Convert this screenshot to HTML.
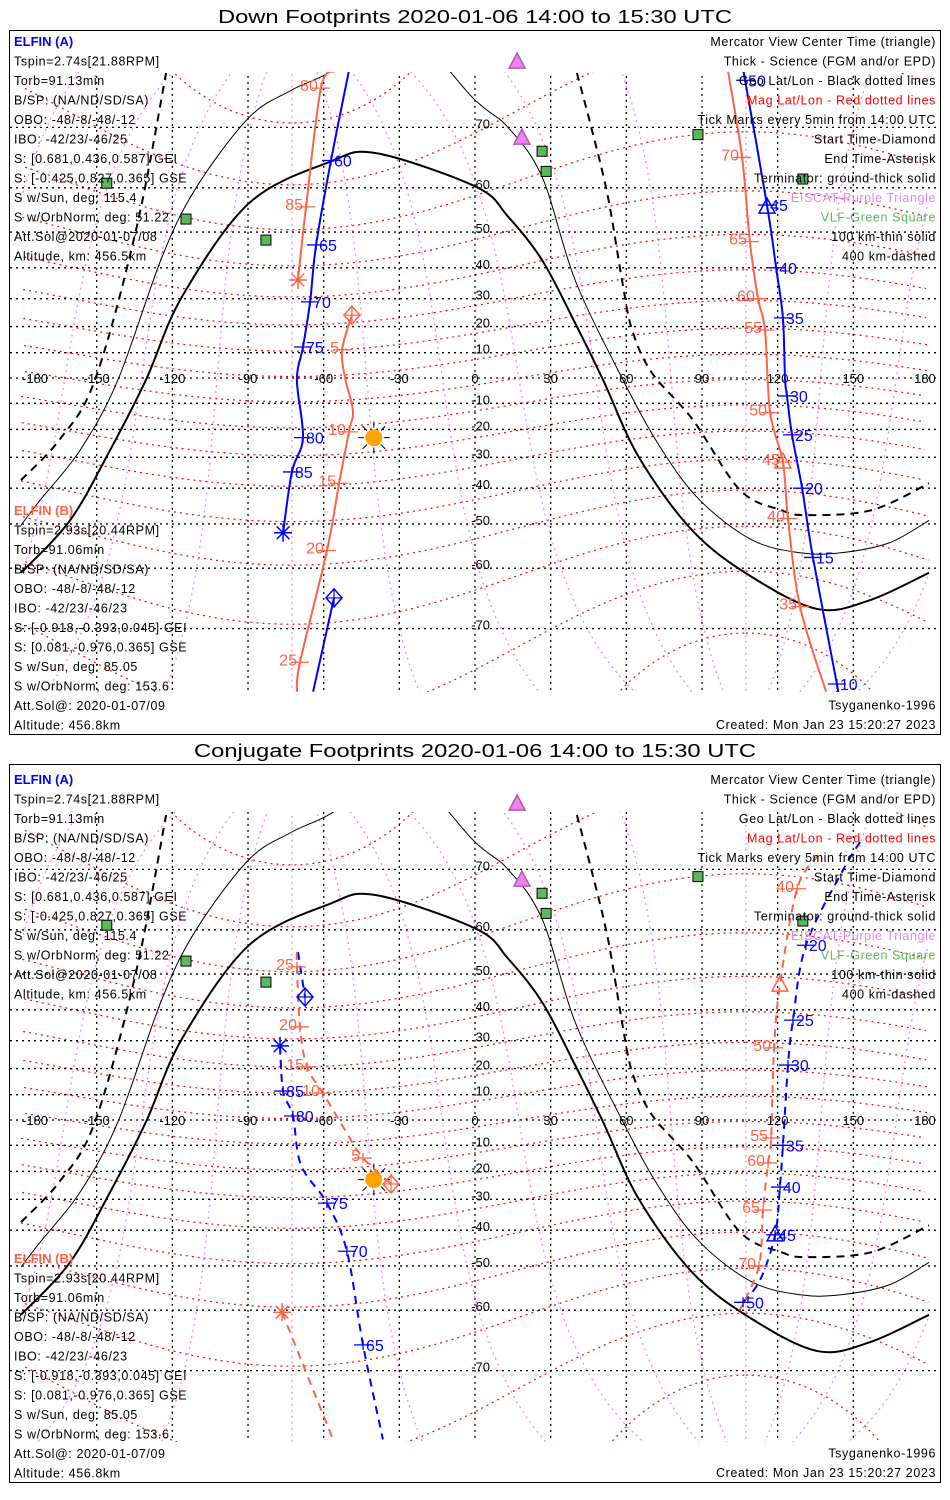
<!DOCTYPE html>
<html><head><meta charset="utf-8"><style>
html,body{margin:0;padding:0;background:#fff}
svg{display:block;font-family:"Liberation Sans",sans-serif}
</style></head><body>
<svg id="chart" width="950" height="1500" viewBox="0 0 950 1500" xmlns="http://www.w3.org/2000/svg">
<defs>
<clipPath id="clip1"><rect x="10" y="72" width="930" height="620"/></clipPath>
<clipPath id="clip2"><rect x="10" y="812" width="930" height="630"/></clipPath>
</defs>
<rect x="0" y="0" width="950" height="1500" fill="#fff"/>
<text x="475" y="23" font-size="18" text-anchor="middle" textLength="514" lengthAdjust="spacingAndGlyphs">Down Footprints 2020-01-06 14:00 to 15:30 UTC</text>
<rect x="9.5" y="30.5" width="931" height="704" fill="none" stroke="#000"/>
<text x="475" y="757" font-size="18" text-anchor="middle" textLength="562" lengthAdjust="spacingAndGlyphs">Conjugate Footprints 2020-01-06 14:00 to 15:30 UTC</text>
<rect x="9.5" y="764.5" width="931" height="718" fill="none" stroke="#000"/>
<g id="p1" clip-path="url(#clip1)"></g>
<g id="p2" clip-path="url(#clip2)"></g>
<g id="m1"></g>
<g id="m2"></g>
<g id="txt"></g>
</svg>
<script>
// ---- data ----
const lonTicks=[-180,-150,-120,-90,-60,-30,0,30,60,90,120,150,180];
const latTicks=[-70,-60,-50,-40,-30,-20,-10,0,10,20,30,40,50,60,70];
const magLats=[-80,-70,-60,-50,-40,-30,-20,-10,0,10,20,30,40,50,60,70,80];
const magLons=[-180,-150,-120,-90,-60,-30,0,30,60,90,120,150];
// terminator curves (lon, lat)
const termGroundLon=[-180,-160.6,-144.7,-130.5,-116.2,-89.6,-57.9,-39.3,0.4,13.1,26.6,39.7,50.8,65,86.4,109.8,136,157,180];
const termGroundLat=[-60.9,-49.1,-27.5,-0.8,30.6,56.8,64.7,66.2,60.2,53.8,42.3,21.3,-0.8,-30,-51.8,-61.7,-67.2,-65.7,-60.9];
const term100Lon=[-180,-172.5,-156.6,-141.6,-124.1,-110.6,-89.6,-72.6,-56.7,-30,0,13.1,26.6,39.7,58.3,73.4,89.2,109.8,128.9,145.1,164.2,180];
const term100Lat=[-50.3,-43.6,-27.5,-0.8,43.2,60,71.3,74.5,76.4,80,73.4,70,62.1,36.2,0,-26.4,-43.6,-53.9,-56.8,-56.8,-54.6,-49.1];
const term400LonA=[-180,-164.6,-150.7,-134.4,-122.5];
const term400LatA=[-37.5,-23.6,-0.8,50.5,76.2];
const term400LonB=[40.4,46.4,52.7,58.3,62.3,70.2,86.4,105.1,121.7,131.2,157,180];
const term400LatB=[76.2,69.6,58.2,36.2,18.7,2,-16.4,-40.6,-46.4,-47.7,-46.4,-38.5];
// Down footprints - ELFIN A (blue)
const dA1Lon=[-55.9,-64.2], dA1Lat=[-65.4,-77];
const dA2Lon=[143.5,143.5,134.0,129.7,125.7,123.7,122.9,122.1,119.4,115.8,107.1,106.3];
const dA2Lat=[-77,-76.3,-57.8,-40,-22,-7.1,0,23.2,40,56.4,75.5,76.4];
const dA3Lon=[-50,-57.1,-63,-65.4,-68.2,-70.6,-68.2,-72.6,-76.1];
const dA3Lat=[76.4,65,46.6,28.9,12.2,-0.8,-23,-34.9,-52.2];
const dATickLon=[143.5,134.0,129.7,125.7,123.7,122.1,119.4,115.8,107.1,-57.1,-63,-65.4,-68.2,-68.2,-72.6];
const dATickLat=[-76.3,-57.8,-40,-22,-7.1,23.2,40,56.4,75.5,65,46.6,28.9,12.2,-23,-34.9];
const dATickLab=["10","15","20","25","30","35","40","45","50","60","65","70","75","80","85"];
// Down footprints - ELFIN B (red)
const dB1Lon=[-48.8,-52.7,-51.5,-48.4,-50,-53.9,-58.7,-69.4,-70.6];
const dB1Lat=[24.2,11.1,0,-12.9,-20.9,-38.5,-56.3,-74.1,-77];
const dB2Lon=[139.2,128.9,124.1,122.1,117,115,112.2,109,105.9,100.3];
const dB2Lat=[-77,-66.8,-48.6,-31.6,-13.6,18.7,30,47.5,65.5,76.4];
const dB3Lon=[-55.5,-61.1,-67,-70.2], dB3Lat=[76.4,74.7,56,36.2];
const dBTickLon=[-52.7,-50,-53.9,-58.7,-69.4,128.9,124.1,122.1,117,115,112.2,109,105.9,-61.1,-67];
const dBTickLat=[11.1,-20.9,-38.5,-56.3,-74.1,-66.8,-48.6,-31.6,-13.6,18.7,30,47.5,65.5,74.7,56];
const dBTickLab=["5","10","15","20","25","35","40","45","50","55","60","65","70","80","85"];
// Conjugate footprints - ELFIN A (blue)
const cA1Lon=[-70.2,-67.4], cA1Lat=[55.3,43.8];
const cA2Lon=[-77.3,-76.1,-72.2,-69,-58.7,-50.8,-44.4,-36.5];
const cA2Lat=[28.2,11.4,1.6,-17.6,-31.3,-46.1,-66.2,-77.5];
const cA3Lon=[152.7,145.9,131.2,126.1,124.1,122.1,120.9,119,113,106.3];
const cA3Lat=[73.4,69.9,56.8,36.8,21.3,-10,-25.7,-41.4,-53.5,-58.4];
const cATickLon=[-76.1,-72.2,-58.7,-50.8,-44.4,131.2,126.1,124.1,122.1,120.9,119,106.3];
const cATickLat=[11.4,1.6,-31.3,-46.1,-66.2,56.8,36.8,21.3,-10,-25.7,-41.4,-58.4];
const cATickLab=["85","80","75","70","65","20","25","30","35","40","45","50"];
// Conjugate footprints - ELFIN B (red)
const cB1Lon=[-70.6,-70.6,-69.4,-66.6,-60.3,-51.5,-44.4,-33.3];
const cB1Lat=[55.3,51.8,34.6,20.6,10.6,-4,-14.9,-24.6];
const cB2Lon=[-76.5,-56.3], cB2Lat=[-60.4,-77.5];
const cB3Lon=[136,127.7,120.9,118.6,117.4,116.2,114.2,112.6,105];
const cB3Lat=[71.8,67.2,47.1,27.5,-7.1,-16.8,-33.6,-50,-60];
const cBTickLon=[-70.6,-69.4,-66.6,-60.3,-44.4,127.7,118.6,117.4,116.2,114.2,112.6];
const cBTickLat=[51.8,34.6,20.6,10.6,-14.9,67.2,27.5,-7.1,-16.8,-33.6,-50];
const cBTickLab=["25","20","15","10","5","40","50","55","60","65","70"];
// markers
const vlfLon=[-146,-114.6,-82.9,26.6,28.2,88.4,130], vlfLat=[60.9,53.2,47.9,66.5,63.1,69,61.7];
const eiscatLon=[16.7,18.6], eiscatLat=[77.2,68.5];
const sunLon=[-40.1], sunLat=[-23];

const leftA=["Tspin=2.74s[21.88RPM]","Torb=91.13min","B/SP: (NA/ND/SD/SA)","OBO: -48/-8/-48/-12","IBO: -42/23/-46/25","S: [0.681,0.436,0.587] GEI","S: [-0.425,0.827,0.365] GSE","S w/Sun, deg: 115.4","S w/OrbNorm, deg: 51.22","Att.Sol@2020-01-07/08","Altitude, km: 456.5km"];
const leftB=["Tspin=2.93s[20.44RPM]","Torb=91.06min","B/SP: (NA/ND/SD/SA)","OBO: -48/-8/-48/-12","IBO: -42/23/-46/23","S: [-0.918,-0.393,0.045] GEI","S: [0.081,-0.976,0.365] GSE","S w/Sun, deg: 85.05","S w/OrbNorm, deg: 153.6","Att.Sol@: 2020-01-07/09","Altitude: 456.8km"];
const legendText=["Mercator View Center Time (triangle)","Thick - Science (FGM and/or EPD)","Geo Lat/Lon - Black dotted lines","Mag Lat/Lon - Red dotted lines","Tick Marks every 5min from 14:00 UTC","Start Time-Diamond","End Time-Asterisk","Terminator: ground-thick solid","EISCAT-Purple Triangle","VLF-Green Square","100 km-thin solid","400 km-dashed"];
const legendColor=["#000","#000","#000","#f00","#000","#000","#000","#000","#ee82ee","#5cb85c","#000","#000"];

// ---- helpers ----
const NS="http://www.w3.org/2000/svg";
const BLUE="#0000ff", RED="#ff6347";
function xS(lon){return 475+lon*2.522;}
function yS(lat,eq){return eq-144.4*Math.log(Math.tan(Math.PI/4+lat*Math.PI/360));}
function mk(tag,attrs,parent){const e=document.createElementNS(NS,tag);for(const k in attrs)e.setAttribute(k,attrs[k]);parent.appendChild(e);return e;}
function poly(g,lons,lats,eq,style,name){
  const pts=lons.map((l,i)=>xS(l).toFixed(1)+","+yS(lats[i],eq).toFixed(1)).join(" ");
  const e=mk("polyline",Object.assign({points:pts,fill:"none"},style),g);
  
  
  return e;
}
function smooth(g,lons,lats,eq,style,name){
  const P=lons.map((l,i)=>[xS(l),yS(lats[i],eq)]);
  let d=`M${P[0][0].toFixed(1)},${P[0][1].toFixed(1)}`;
  for(let i=0;i<P.length-1;i++){
    const p0=P[Math.max(0,i-1)],p1=P[i],p2=P[i+1],p3=P[Math.min(P.length-1,i+2)];
    const c1=[p1[0]+(p2[0]-p0[0])/6,p1[1]+(p2[1]-p0[1])/6];
    const c2=[p2[0]-(p3[0]-p1[0])/6,p2[1]-(p3[1]-p1[1])/6];
    d+=`C${c1[0].toFixed(1)},${c1[1].toFixed(1)} ${c2[0].toFixed(1)},${c2[1].toFixed(1)} ${p2[0].toFixed(1)},${p2[1].toFixed(1)}`;
  }
  const e=mk("path",Object.assign({d:d,fill:"none"},style),g);
  
  
  return e;
}
function text(g,x,y,s,attrs,name){
  const e=mk("text",Object.assign({x:x,y:y},attrs),g);e.textContent=s;
  
  
  return e;
}
const PLAT=80.6*Math.PI/180, PLON=-72.6*Math.PI/180;
function magToGeo(mlat,mlon){
  const a=mlat*Math.PI/180,b=mlon*Math.PI/180;
  let x=Math.cos(a)*Math.cos(b),y=Math.cos(a)*Math.sin(b),z=Math.sin(a);
  const t=Math.PI/2-PLAT;
  const x1=x*Math.cos(t)+z*Math.sin(t), z1=-x*Math.sin(t)+z*Math.cos(t);
  const x2=x1*Math.cos(PLON)-y*Math.sin(PLON), y2=x1*Math.sin(PLON)+y*Math.cos(PLON);
  return [Math.atan2(y2,x2)*180/Math.PI, Math.asin(Math.max(-1,Math.min(1,z1)))*180/Math.PI];
}
function magLine(g,eq,fixed,isLat,style,name){
  let segs=[],cur=[],prev=null;
  for(let s=-180;s<=180;s+=2){
    const r=isLat?magToGeo(fixed,s):magToGeo(s/2,fixed);
    if(Math.abs(r[1])>85){prev=null;if(cur.length>1)segs.push(cur);cur=[];continue;}
    if(prev&&Math.abs(r[0]-prev[0])>180){if(cur.length>1)segs.push(cur);cur=[];}
    cur.push(r);prev=r;
  }
  if(cur.length>1)segs.push(cur);
  segs.forEach(sg=>poly(g,sg.map(p=>p[0]),sg.map(p=>p[1]),eq,style,name));
}
function diamond(g,x,y,c,name){
  const e=mk("g",{},g);
  
  
  mk("polygon",{points:`${x},${y-9} ${x+8},${y} ${x},${y+9} ${x-8},${y}`,fill:"none",stroke:c,"stroke-width":1.5},e);
  mk("path",{d:`M${x-8},${y}H${x+8}M${x},${y-9}V${y+9}`,stroke:c,"stroke-width":1.2},e);
}
function asterisk(g,x,y,c,name){
  let d="";for(let k=0;k<4;k++){const a=k*Math.PI/4;d+=`M${x-9*Math.cos(a)},${y-9*Math.sin(a)}L${x+9*Math.cos(a)},${y+9*Math.sin(a)}`;}
  const e=mk("path",{d:d,stroke:c,"stroke-width":1.5},g);
  
  
}
function triangle(g,x,y,c,fill,name){
  const e=mk("polygon",{points:`${x},${y-9} ${x+8},${y+6} ${x-8},${y+6}`,fill:fill,stroke:c,"stroke-width":1.5},g);
  
  
}
function ticks(g,lons,lats,labs,eq,c,side,name){
  lons.forEach((l,i)=>{
    const x=xS(l),y=yS(lats[i],eq);
    const p=mk("path",{d:`M${x-9},${y}H${x+9}M${x},${y-5}V${y+5}`,stroke:c,"stroke-width":1.3},g);
    
    
    if(side>0)text(g,x+3,y+6,labs[i],{fill:c,"font-size":16},name+'-tick-label');
    else text(g,x-3,y+3,labs[i],{fill:c,"font-size":16,"text-anchor":"end"},name+'-tick-label');
  });
}

function drawMap(g,mg,eq,conj){
  magLats.forEach(m=>magLine(g,eq,m,true,{stroke:"#ff0000","stroke-width":1.2,"stroke-dasharray":"2,4"},"mag-lat-line"));
  magLons.forEach(m=>magLine(g,eq,m,false,{stroke:"#ee82ee","stroke-width":1.2,"stroke-dasharray":"2,4"},"mag-lon-line"));
  latTicks.forEach(la=>{
    const y=yS(la,eq);
    const l=mk("line",{x1:10,x2:940,y1:y,y2:y,stroke:"#000","stroke-width":1.3,"stroke-dasharray":"2,4"},g);
    
    
    if(la!==0)text(g,490,y+1,String(la),{"font-size":13,"text-anchor":"end"},'lat-label');
  });
  lonTicks.forEach(lo=>{
    const x=xS(lo);
    if(Math.abs(lo)<180){
      const l=mk("line",{x1:x,x2:x,y1:yS(76.5,eq),y2:yS(-77.5,eq),stroke:"#000","stroke-width":1.3,"stroke-dasharray":"2,4"},g);
      
      
    }
    const tx=lo===-180?xS(lo)+14:(lo===180?xS(lo)-4:x);
    text(g,tx,eq+5,String(lo),{"font-size":13,"text-anchor":"middle"},'lon-label');
  });
  smooth(g,termGroundLon,termGroundLat,eq,{stroke:"#000","stroke-width":2},"terminator-ground");
  smooth(g,term100Lon,term100Lat,eq,{stroke:"#000","stroke-width":1},"terminator-100km");
  smooth(g,term400LonA,term400LatA,eq,{stroke:"#000","stroke-width":2,"stroke-dasharray":"8,6"},"terminator-400km");
  smooth(g,term400LonB,term400LatB,eq,{stroke:"#000","stroke-width":2,"stroke-dasharray":"8,6"},"terminator-400km");
  vlfLon.forEach((l,i)=>{
    const x=xS(l),y=yS(vlfLat[i],eq);
    const r=mk("rect",{x:x-5,y:y-5,width:10,height:10,fill:"#5cb85c",stroke:"#000","stroke-width":1},mg);
    
    
  });
  eiscatLon.forEach((l,i)=>triangle(mg,xS(l),yS(eiscatLat[i],eq),"#b05cb0","#ee82ee","eiscat-station"));
  const sx=xS(sunLon[0]),sy=yS(sunLat[0],eq);
  let d="";for(let k=0;k<8;k++){const a=k*Math.PI/4;d+=`M${sx+10*Math.cos(a)},${sy+10*Math.sin(a)}L${sx+16*Math.cos(a)},${sy+16*Math.sin(a)}`;}
  const sr=mk("path",{d:d,stroke:"#000","stroke-width":1},g);
  
  
  const sc=mk("circle",{cx:sx,cy:sy,r:8.5,fill:"#ffa500"},g);
  
  
  if(!conj){
    const sA={stroke:BLUE,"stroke-width":2}, sB={stroke:RED,"stroke-width":2};
    smooth(g,dA1Lon,dA1Lat,eq,sA,"elfin-a-track");smooth(g,dA2Lon,dA2Lat,eq,sA,"elfin-a-track");smooth(g,dA3Lon,dA3Lat,eq,sA,"elfin-a-track");
    smooth(g,dB1Lon,dB1Lat,eq,sB,"elfin-b-track");smooth(g,dB2Lon,dB2Lat,eq,sB,"elfin-b-track");smooth(g,dB3Lon,dB3Lat,eq,sB,"elfin-b-track");
    ticks(g,dATickLon,dATickLat,dATickLab,eq,BLUE,1,"elfin-a");
    ticks(g,dBTickLon,dBTickLat,dBTickLab,eq,RED,-1,"elfin-b");
    diamond(g,xS(dA1Lon[0]),yS(dA1Lat[0],eq),BLUE,"elfin-a-start");
    asterisk(g,xS(dA3Lon[8]),yS(dA3Lat[8],eq),BLUE,"elfin-a-end");
    triangle(g,xS(115.8),yS(56.4,eq)+2,BLUE,"none","elfin-a-center");
    diamond(g,xS(dB1Lon[0]),yS(dB1Lat[0],eq),RED,"elfin-b-start");
    asterisk(g,xS(dB3Lon[3]),yS(dB3Lat[3],eq),RED,"elfin-b-end");
    triangle(g,xS(122.1),yS(-31.6,eq),RED,"none","elfin-b-center");
  } else {
    const sA={stroke:BLUE,"stroke-width":2,"stroke-dasharray":"8,6"}, sB={stroke:RED,"stroke-width":2,"stroke-dasharray":"8,6"};
    smooth(g,cA1Lon,cA1Lat,eq,sA,"elfin-a-track");smooth(g,cA2Lon,cA2Lat,eq,sA,"elfin-a-track");smooth(g,cA3Lon,cA3Lat,eq,sA,"elfin-a-track");
    smooth(g,cB1Lon,cB1Lat,eq,sB,"elfin-b-track");smooth(g,cB2Lon,cB2Lat,eq,sB,"elfin-b-track");smooth(g,cB3Lon,cB3Lat,eq,sB,"elfin-b-track");
    ticks(g,cATickLon,cATickLat,cATickLab,eq,BLUE,1,"elfin-a");
    ticks(g,cBTickLon,cBTickLat,cBTickLab,eq,RED,-1,"elfin-b");
    diamond(g,xS(cA1Lon[1]),yS(cA1Lat[1],eq),BLUE,"elfin-a-start");
    asterisk(g,xS(cA2Lon[0]),yS(cA2Lat[0],eq),BLUE,"elfin-a-end");
    triangle(g,xS(119),yS(-41.4,eq),BLUE,"none","elfin-a-center");
    diamond(g,xS(cB1Lon[7]),yS(cB1Lat[7],eq),RED,"elfin-b-start");
    asterisk(g,xS(cB2Lon[0]),yS(cB2Lat[0],eq),RED,"elfin-b-end");
    triangle(g,xS(120.9),yS(47.1,eq),RED,"none","elfin-b-center");
  }
}
drawMap(document.getElementById("p1"),document.getElementById("m1"),378,false);
drawMap(document.getElementById("p2"),document.getElementById("m2"),1120,true);

const T=document.getElementById("txt");
function block(top,topB,bottomY){
  text(T,14,top,"ELFIN (A)",{fill:BLUE,"font-size":13,"font-weight":"bold"},"elfin-a-heading");
  leftA.forEach((s,i)=>text(T,14,top+19.5*(i+1),s,{"font-size":12.5,"letter-spacing":"0.6"},"elfin-a-info"));
  text(T,14,topB,"ELFIN (B)",{fill:RED,"font-size":13,"font-weight":"bold"},"elfin-b-heading");
  leftB.forEach((s,i)=>text(T,14,topB+19.5*(i+1),s,{"font-size":12.5,"letter-spacing":"0.6"},"elfin-b-info"));
  legendText.forEach((s,i)=>text(T,936,top+19.5*i,s,{"font-size":12.5,"text-anchor":"end","letter-spacing":"0.6",fill:legendColor[i]},"legend-entry"));
  text(T,936,bottomY-19.5,"Tsyganenko-1996",{"font-size":12.5,"text-anchor":"end","letter-spacing":"0.6"},"model-label");
  text(T,936,bottomY,"Created: Mon Jan 23 15:20:27 2023",{"font-size":12.5,"text-anchor":"end","letter-spacing":"0.6"},"created-label");
}
block(46,515,729);
block(784,1263,1477);
</script>
</body></html>
